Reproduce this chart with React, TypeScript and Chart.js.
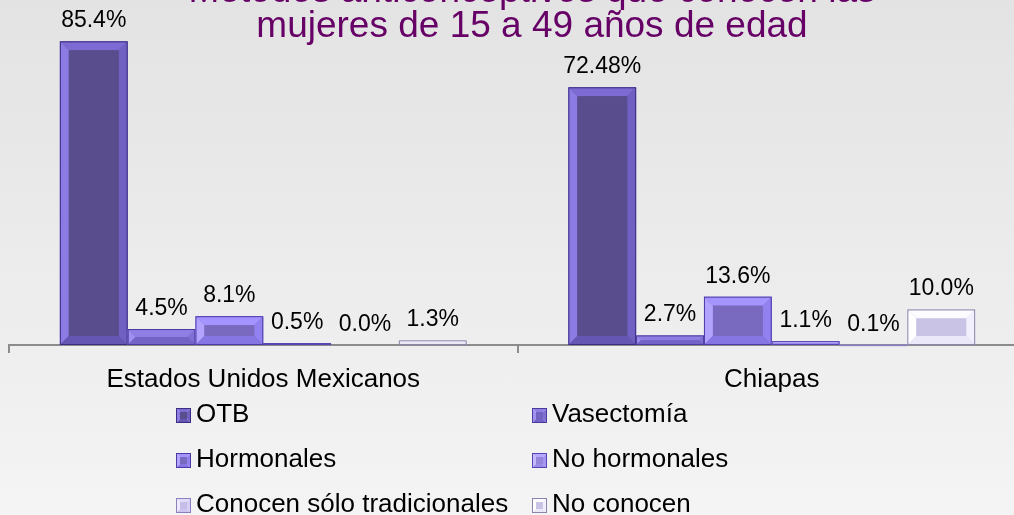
import React, { useEffect, useRef } from "react";
import { Chart, registerables } from "chart.js";

Chart.register(...registerables);

// ---- data ----
const categories = ["Estados Unidos Mexicanos", "Chiapas"];
const seriesNames = [
  "OTB",
  "Vasectomía",
  "Hormonales",
  "No hormonales",
  "Conocen sólo tradicionales",
  "No conocen",
];
const otb = [85.4, 72.48];
const vasectomia = [4.5, 2.7];
const hormonales = [8.1, 13.6];
const noHormonales = [0.5, 1.1];
const soloTradicionales = [0.0, 0.1];
const noConocen = [1.3, 10.0];
const seriesValues = [otb, vasectomia, hormonales, noHormonales, soloTradicionales, noConocen];
const titleLines = ["Métodos anticonceptivos que conocen las", "mujeres de 15 a 49 años de edad"];

// ---- styles ----
type Bev = { border: string; left: string; top: string; right: string; bottom: string; face: string };
const bevelStyles: Bev[] = [
  { border: "#3b2c85", left: "#8b7be3", top: "#7d6bd3", right: "#7060c2", bottom: "#6656b4", face: "#5a4d8e" },
  { border: "#4a3a9e", left: "#a090f0", top: "#8f7fe4", right: "#8070d4", bottom: "#7463c6", face: "#7362c0" },
  { border: "#4b3aa8", left: "#b2a3ff", top: "#a494ff", right: "#9282f0", bottom: "#8676e4", face: "#7a6abf" },
  { border: "#5444b4", left: "#c6baff", top: "#b6aaff", right: "#a696f4", bottom: "#9a8aea", face: "#9686da" },
  { border: "#8a80c0", left: "#eeeaff", top: "#e2dcfc", right: "#d6cef6", bottom: "#cec6f0", face: "#c6bee8" },
  { border: "#8b85ab", left: "#ffffff", top: "#fcfbff", right: "#f2f0fc", bottom: "#ebe8fa", face: "#c9c3e5" },
];

const FONT = '"Liberation Sans", Arial, Helvetica, sans-serif';

function poly(ctx: CanvasRenderingContext2D, pts: number[][], color: string) {
  ctx.beginPath();
  ctx.moveTo(pts[0][0], pts[0][1]);
  for (let i = 1; i < pts.length; i++) ctx.lineTo(pts[i][0], pts[i][1]);
  ctx.closePath();
  ctx.fillStyle = color;
  ctx.fill();
}

function drawBevel(ctx: CanvasRenderingContext2D, l: number, t: number, r: number, b: number, s: Bev, size: number) {
  const w = r - l;
  const h = b - t;
  if (h < 0.3 || w <= 0) return;
  const k = Math.min(size, w / 2, h / 2);
  ctx.save();
  if (k >= 1.5) {
    poly(ctx, [[l, t], [r, t], [r - k, t + k], [l + k, t + k]], s.top);
    poly(ctx, [[l, t], [l + k, t + k], [l + k, b - k], [l, b]], s.left);
    poly(ctx, [[r, t], [r, b], [r - k, b - k], [r - k, t + k]], s.right);
    poly(ctx, [[l, b], [l + k, b - k], [r - k, b - k], [r, b]], s.bottom);
    ctx.fillStyle = s.face;
    ctx.fillRect(l + k, t + k, w - 2 * k, h - 2 * k);
  } else {
    ctx.fillStyle = s.border;
    ctx.fillRect(l, t, w, h);
  }
  ctx.strokeStyle = s.border;
  ctx.lineWidth = 1;
  ctx.strokeRect(l + 0.5, t + 0.5, w - 1, Math.max(h - 1, 0.5));
  ctx.restore();
}

function fmt(v: number): string {
  const s = String(v);
  const dec = s.includes(".") ? s.split(".")[1].length : 0;
  return v.toFixed(Math.max(1, dec)) + "%";
}

const decorPlugin = {
  id: "decor",
  afterDatasetsDraw(chart: any) {
    const ctx: CanvasRenderingContext2D = chart.ctx;
    chart.data.datasets.forEach((ds: any, di: number) => {
      const meta = chart.getDatasetMeta(di);
      meta.data.forEach((el: any, i: number) => {
        const p = el.getProps(["x", "y", "base", "width"], true);
        const l = p.x - p.width / 2;
        const r = p.x + p.width / 2;
        drawBevel(ctx, l, Math.min(p.y, p.base), r, Math.max(p.y, p.base), bevelStyles[di], 9);
        ctx.save();
        ctx.font = `23px ${FONT}`;
        ctx.fillStyle = "#000000";
        ctx.textAlign = "center";
        ctx.textBaseline = "alphabetic";
        ctx.fillText(fmt(ds.data[i]), p.x, p.y - 14);
        ctx.restore();
      });
    });
  },
  afterDraw(chart: any) {
    const ctx: CanvasRenderingContext2D = chart.ctx;
    const xs = chart.scales.x;
    ctx.save();
    // title
    ctx.font = `37px ${FONT}`;
    ctx.fillStyle = "#660066";
    ctx.textAlign = "center";
    ctx.textBaseline = "alphabetic";
    ctx.fillText(titleLines[0], 532, 2);
    ctx.fillText(titleLines[1], 532, 37);
    // category labels
    ctx.font = `26px ${FONT}`;
    ctx.fillStyle = "#000000";
    categories.forEach((c, i) => {
      ctx.fillText(c, xs.getPixelForValue(i), 387);
    });
    // legend
    ctx.textAlign = "left";
    const cols = [176, 532];
    const rows = [422, 467, 512];
    seriesNames.forEach((name, i) => {
      const cx = cols[i % 2];
      const by = rows[Math.floor(i / 2)];
      drawBevel(ctx, cx, by - 14, cx + 15, by + 1, bevelStyles[i], 4);
      ctx.fillStyle = "#000000";
      ctx.font = `26px ${FONT}`;
      ctx.fillText(name, cx + 20, by);
    });
    ctx.restore();
  },
};

export default function App() {
  const ref = useRef<HTMLCanvasElement>(null);
  useEffect(() => {
    document.body.style.margin = "0";
    const chart = new Chart(ref.current as HTMLCanvasElement, {
      type: "bar",
      data: {
        labels: categories,
        datasets: seriesNames.map((name, i) => ({
          label: name,
          data: seriesValues[i],
          backgroundColor: bevelStyles[i].face,
          borderColor: bevelStyles[i].border,
          borderWidth: 1,
          borderSkipped: false,
          categoryPercentage: 0.8,
          barPercentage: 1.0,
        })),
      },
      options: {
        responsive: false,
        animation: false,
        devicePixelRatio: 1,
        layout: { padding: { left: 9, right: 14, top: 25, bottom: 162 } },
        plugins: {
          legend: { display: false },
          title: { display: false },
          tooltip: { enabled: false },
        },
        scales: {
          x: {
            offset: true,
            grid: {
              display: true,
              offset: true,
              drawOnChartArea: false,
              drawTicks: true,
              tickLength: 8,
              color: "#8c8c8c",
              lineWidth: 2,
            },
            border: { display: true, color: "#8c8c8c", width: 2 },
            ticks: { display: false },
          },
          y: { display: false, min: 0, max: 90 },
        },
      },
      plugins: [decorPlugin],
    });
    return () => chart.destroy();
  }, []);
  return (
    <div
      style={{
        position: "relative",
        width: 1014,
        height: 515,
        overflow: "hidden",
        background: "linear-gradient(#e3e3e3, #f4f4f4)",
      }}
    >
      <canvas ref={ref} width={1040} height={515} style={{ display: "block", width: 1040, height: 515 }} />
    </div>
  );
}
